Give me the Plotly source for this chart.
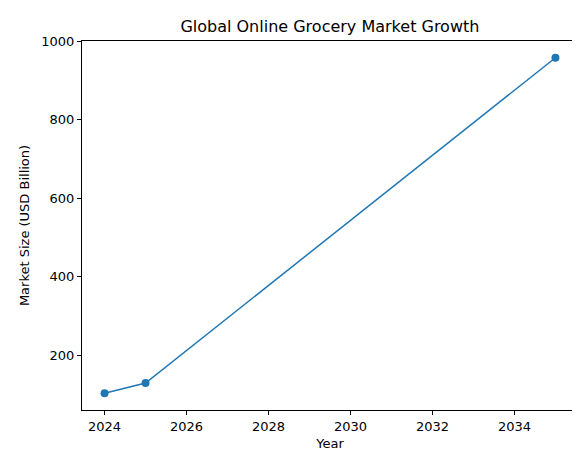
import plotly.graph_objects as go

years = [2024, 2025, 2035]
market_size = [103, 129, 958]

fig = go.Figure(go.Scatter(
    x=years, y=market_size, mode="lines+markers",
    line=dict(color="#1f77b4", width=1.5),
    marker=dict(color="#1f77b4", size=8),
))

axis_style = dict(
    showgrid=False, zeroline=False, showline=True, linecolor="black", linewidth=1,
    mirror=True, ticks="outside", ticklen=4, tickcolor="black",
    tickfont=dict(size=13, color="black"), automargin=False,
)

fig.update_layout(
    width=580, height=455,
    paper_bgcolor="white", plot_bgcolor="white",
    font=dict(family="DejaVu Sans", color="black"),
    title=dict(text="Global Online Grocery Market Growth", x=0.555, xanchor="center",
               y=0.96, yanchor="middle", font=dict(size=16), automargin=False),
    margin=dict(l=74, r=10, t=33, b=53),
    showlegend=False,
    xaxis=dict(range=[2023.45, 2035.55], tickvals=[2024, 2026, 2028, 2030, 2032, 2034],
               title=dict(text="Year", font=dict(size=13), standoff=6), **axis_style),
    yaxis=dict(range=[60.3, 1000.7], tickvals=[200, 400, 600, 800, 1000],
               title=dict(text="Market Size (USD Billion)", font=dict(size=13), standoff=8),
               **axis_style),
)

fig.write_html("out.html")
